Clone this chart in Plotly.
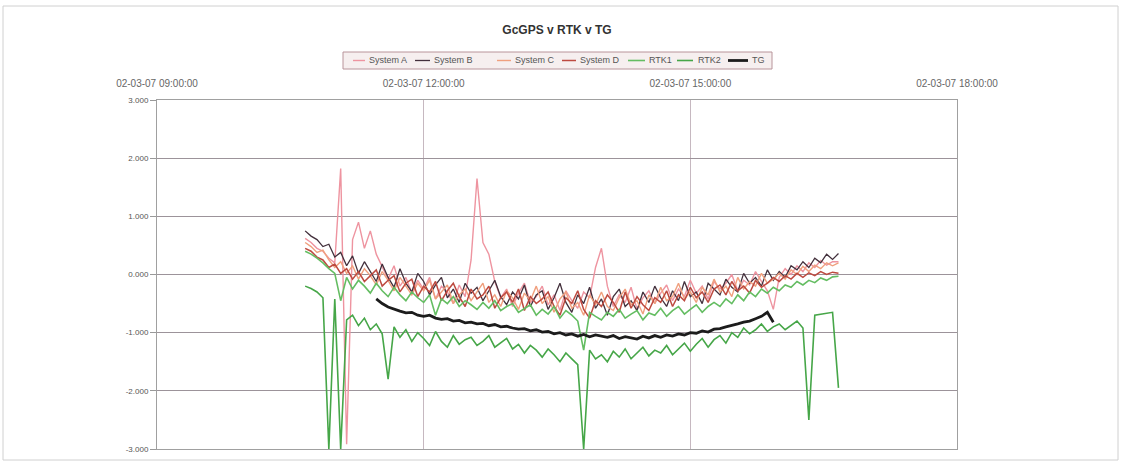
import pandas as pd
import plotly.graph_objects as go

# sample times (4-minute records, 2 March 2007)
times = pd.date_range("2007-03-02 10:40:00", "2007-03-02 16:40:00", freq="4min")

system_a = [0.62, 0.55, 0.45, 0.40, 0.28, 0.20, 1.82, -2.92, 0.60, 0.90,
            0.45, 0.75, 0.35, 0.12, -0.08, 0.15, -0.20, -0.05, -0.32, -0.10,
            -0.25, -0.05, -0.42, -0.20, -0.30, -0.50, -0.18, -0.38, 0.25, 1.65,
            0.55, 0.35, -0.12, -0.40, -0.25, -0.55, -0.32, -0.15, -0.48, -0.38,
            -0.20, -0.52, -0.35, -0.62, -0.28, -0.45, -0.58, -0.30, -0.40, 0.12,
            0.45, -0.20, -0.55, -0.35, -0.48, -0.22, -0.60, -0.40, -0.28, -0.50,
            -0.32, -0.18, -0.45, -0.25, -0.38, -0.10, -0.32, -0.20, -0.42, -0.12,
            -0.25, -0.15, 0.00, -0.28, -0.10, -0.18, 0.05, -0.12, -0.28, -0.60,
            -0.05, 0.10, 0.00, 0.15, 0.05, 0.20, 0.12, 0.24, 0.16, 0.22,
            0.22]

system_b = [0.75, 0.66, 0.60, 0.48, 0.52, 0.30, 0.38, 0.15, 0.32, 0.02,
            0.22, 0.05, -0.12, 0.18, -0.05, -0.22, 0.10, -0.15, -0.30, 0.02,
            -0.12, -0.35, -0.18, -0.05, -0.40, -0.25, -0.48, -0.15, -0.32, -0.22,
            -0.45, -0.28, -0.10, -0.38, -0.52, -0.30, -0.42, -0.18, -0.55, -0.35,
            -0.28, -0.60, -0.40, -0.15, -0.48, -0.65, -0.35, -0.50, -0.22, -0.58,
            -0.42, -0.70, -0.38, -0.25, -0.55, -0.45, -0.62, -0.30, -0.48, -0.20,
            -0.40, -0.55, -0.28, -0.45, -0.12, -0.38, -0.30, -0.50, -0.15, -0.25,
            -0.35, -0.08, -0.22, -0.30, 0.02, -0.15, -0.05, -0.20, 0.08, -0.10,
            0.05, -0.05, 0.15, 0.08, 0.22, 0.12, 0.28, 0.20, 0.35, 0.26,
            0.36]

system_c = [0.55, 0.48, 0.38, 0.42, 0.25, 0.12, 0.22, 0.02, 0.15, -0.08,
            0.10, -0.02, -0.18, 0.05, -0.10, -0.28, -0.05, -0.20, -0.35, -0.15,
            -0.28, -0.10, -0.42, -0.30, -0.18, -0.50, -0.35, -0.25, -0.45, -0.30,
            -0.15, -0.48, -0.35, -0.55, -0.28, -0.40, -0.60, -0.32, -0.45, -0.20,
            -0.50, -0.38, -0.65, -0.42, -0.30, -0.58, -0.48, -0.70, -0.35, -0.52,
            -0.30, -0.55, -0.62, -0.40, -0.25, -0.52, -0.45, -0.68, -0.35, -0.50,
            -0.22, -0.45, -0.38, -0.15, -0.42, -0.30, -0.48, -0.22, -0.35, -0.08,
            -0.30, -0.20, -0.38, -0.05, -0.25, -0.12, -0.20, 0.02, -0.15, -0.08,
            0.02, -0.08, 0.08, 0.00, 0.14, 0.05, 0.16, 0.10, 0.20, 0.15,
            0.20]

system_d = [0.45, 0.40, 0.30, 0.25, 0.12, 0.18, 0.02, 0.10, -0.08, 0.05,
            -0.12, -0.02, 0.08, -0.20, -0.10, -0.02, -0.30, -0.15, -0.08, -0.38,
            -0.20, -0.30, -0.12, -0.45, -0.28, -0.15, -0.38, -0.55, -0.25, -0.42,
            -0.35, -0.20, -0.58, -0.40, -0.30, -0.48, -0.25, -0.62, -0.38, -0.50,
            -0.42, -0.30, -0.55, -0.70, -0.40, -0.50, -0.28, -0.60, -0.75, -0.45,
            -0.55, -0.35, -0.48, -0.65, -0.30, -0.58, -0.38, -0.52, -0.62, -0.40,
            -0.48, -0.28, -0.55, -0.35, -0.45, -0.22, -0.40, -0.30, -0.48, -0.25,
            -0.18, -0.35, -0.12, -0.28, -0.20, -0.32, -0.10, -0.22, -0.15, -0.05,
            -0.12, -0.02, -0.08, 0.02, -0.05, 0.03, -0.02, 0.05, 0.00, 0.04,
            0.02]

rtk1 = [0.40, 0.35, 0.28, 0.20, 0.10, 0.02, -0.45, -0.05, -0.25, -0.10,
        -0.20, -0.32, -0.15, -0.28, -0.38, -0.22, -0.35, -0.45, -0.30, -0.40,
        -0.48, -0.35, -0.70, -0.42, -0.50, -0.38, -0.55, -0.45, -0.52, -0.60,
        -0.48, -0.58, -0.45, -0.62, -0.55, -0.50, -0.65, -0.58, -0.52, -0.70,
        -0.60, -0.68, -0.55, -0.75, -0.62, -0.70, -0.80, -1.30, -0.65, -0.72,
        -0.78, -0.65, -0.72, -0.60, -0.75, -0.68, -0.62, -0.78, -0.66, -0.70,
        -0.58, -0.72, -0.62, -0.55, -0.68, -0.60, -0.52, -0.65, -0.55, -0.48,
        -0.55, -0.42, -0.50, -0.35, -0.45, -0.30, -0.38, -0.25, -0.32, -0.22,
        -0.28, -0.18, -0.22, -0.12, -0.18, -0.10, -0.14, -0.06, -0.10, -0.04,
        -0.03]

rtk2 = [-0.20, -0.24, -0.30, -0.40, -3.00, -0.42, -3.00, -0.78, -0.70, -0.88,
        -0.75, -0.95, -0.85, -1.02, -1.80, -0.90, -1.08, -0.95, -1.15, -1.00,
        -1.10, -1.22, -0.98, -1.15, -1.25, -1.05, -1.20, -1.12, -1.08, -1.22,
        -1.15, -1.05, -1.25, -1.18, -1.10, -1.28, -1.20, -1.35, -1.22, -1.30,
        -1.42, -1.28, -1.38, -1.50, -1.35, -1.45, -1.55, -3.00, -1.30, -1.45,
        -1.38, -1.50, -1.32, -1.42, -1.28, -1.45, -1.35, -1.25, -1.40, -1.30,
        -1.35, -1.22, -1.38, -1.28, -1.18, -1.32, -1.20, -1.10, -1.25, -1.12,
        -1.05, -1.18, -1.00, -1.08, -0.92, -1.02, -0.95, -0.85, -0.98, -0.90,
        -0.85, -0.95, -0.88, -0.80, -0.92, -2.50, -0.70, -0.68, -0.66, -0.65,
        -1.95]

tg = [None] * 12 + [
        -0.42, -0.50, -0.56, -0.60, -0.63, -0.66, -0.65, -0.70,
        -0.72, -0.70, -0.75, -0.77, -0.76, -0.80, -0.79, -0.83, -0.82, -0.85,
        -0.84, -0.88, -0.86, -0.90, -0.89, -0.92, -0.94, -0.93, -0.97, -0.95,
        -0.99, -0.98, -1.02, -1.00, -1.04, -1.02, -1.06, -1.03, -1.07, -1.04,
        -1.06, -1.08, -1.05, -1.10, -1.07, -1.09, -1.11, -1.06, -1.09, -1.05,
        -1.08, -1.04, -1.06, -1.02, -1.04, -1.00, -1.01, -0.97, -0.99, -0.94,
        -0.93, -0.90, -0.88, -0.85, -0.82, -0.80, -0.76, -0.72, -0.65, -0.82] + [None] * 11

series_names = ["System A", "System B", "System C", "System D", "RTK1", "RTK2", "TG"]
series_values = [system_a, system_b, system_c, system_d, rtk1, rtk2, tg]
series_colors = ["#ee94a0", "#43303c", "#f0a07e", "#bd4a40", "#64bd62", "#46a648", "#1c1c1c"]
series_widths = [1.4, 1.3, 1.4, 1.5, 1.6, 1.6, 2.8]

x_tick_vals = ["2007-03-02 09:00:00", "2007-03-02 12:00:00",
               "2007-03-02 15:00:00", "2007-03-02 18:00:00"]
x_tick_text = ["02-03-07 09:00:00", "02-03-07 12:00:00",
               "02-03-07 15:00:00", "02-03-07 18:00:00"]
y_tick_vals = [3, 2, 1, 0, -1, -2, -3]
y_tick_text = ["3.000", "2.000", "1.000", "0.000", "-1.000", "-2.000", "-3.000"]

fig = go.Figure()
for name, vals, col, w in zip(series_names, series_values, series_colors, series_widths):
    fig.add_trace(go.Scatter(x=times, y=vals, mode="lines", name=name,
                             line=dict(color=col, width=w), connectgaps=False,
                             showlegend=False))

W, H = 1122, 466
L, R, T, B = 157, 165, 100, 17
pw, ph = W - L - R, H - T - B


def px_x(px):
    return (px - L) / pw


def px_y(py):
    return (H - B - py) / ph


fig.update_layout(
    width=W, height=H,
    margin=dict(l=L, r=R, t=T, b=B),
    paper_bgcolor="white", plot_bgcolor="white",
    font=dict(family="Liberation Sans, Arial, sans-serif", size=8, color="#555555"),
    title=dict(text="<b>GcGPS v RTK v TG</b>", x=(L + pw / 2) / W, xanchor="center",
               y=1 - 30 / H, yanchor="middle",
               font=dict(size=12, color="#333333")),
    showlegend=False,
    xaxis=dict(type="date", side="top",
               range=["2007-03-02 09:00:00", "2007-03-02 18:00:00"],
               tickmode="array", tickvals=x_tick_vals, ticktext=x_tick_text,
               showgrid=True, gridcolor="#c6b8c0", gridwidth=1,
               showline=True, linecolor="#a0a0a0", mirror=True,
               ticks="", ticklabelstandoff=8, zeroline=False,
               tickfont=dict(size=10, color="#666666")),
    yaxis=dict(range=[-3, 3], tickmode="array", tickvals=y_tick_vals, ticktext=y_tick_text,
               showgrid=True, gridcolor="#9c939a", gridwidth=1,
               showline=True, linecolor="#a0a0a0", mirror=True,
               ticks="outside", ticklen=6, tickcolor="#999999",
               zeroline=False, tickfont=dict(size=8, color="#555555")),
)

# outer chart frame
fig.add_shape(type="rect", xref="paper", yref="paper",
              x0=px_x(3), x1=px_x(1118), y0=px_y(460), y1=px_y(6),
              line=dict(color="#d0d0d0", width=1), layer="below")

# legend box (drawn by hand to match the compact spreadsheet legend)
fig.add_shape(type="rect", xref="paper", yref="paper",
              x0=px_x(343), x1=px_x(772), y0=px_y(69), y1=px_y(52),
              line=dict(color="#b8949a", width=1), fillcolor="#f6efef", layer="above")
legend_line_px = [(353, 365), (415, 430), (497, 511), (562, 576), (628, 645), (677, 693), (728, 748)]
legend_text_px = [367, 432, 513, 578, 647, 696, 750]
legend_y = 60.5
for name, col, w, (lx0, lx1), tx in zip(series_names, series_colors, series_widths,
                                         legend_line_px, legend_text_px):
    fig.add_shape(type="line", xref="paper", yref="paper",
                  x0=px_x(lx0), x1=px_x(lx1), y0=px_y(legend_y), y1=px_y(legend_y),
                  line=dict(color=col, width=w), layer="above")
    fig.add_annotation(xref="paper", yref="paper", x=px_x(tx), y=px_y(legend_y),
                       text=name, showarrow=False, xanchor="left", yanchor="middle",
                       font=dict(size=9, color="#555555"))

fig.write_html("out.html")
